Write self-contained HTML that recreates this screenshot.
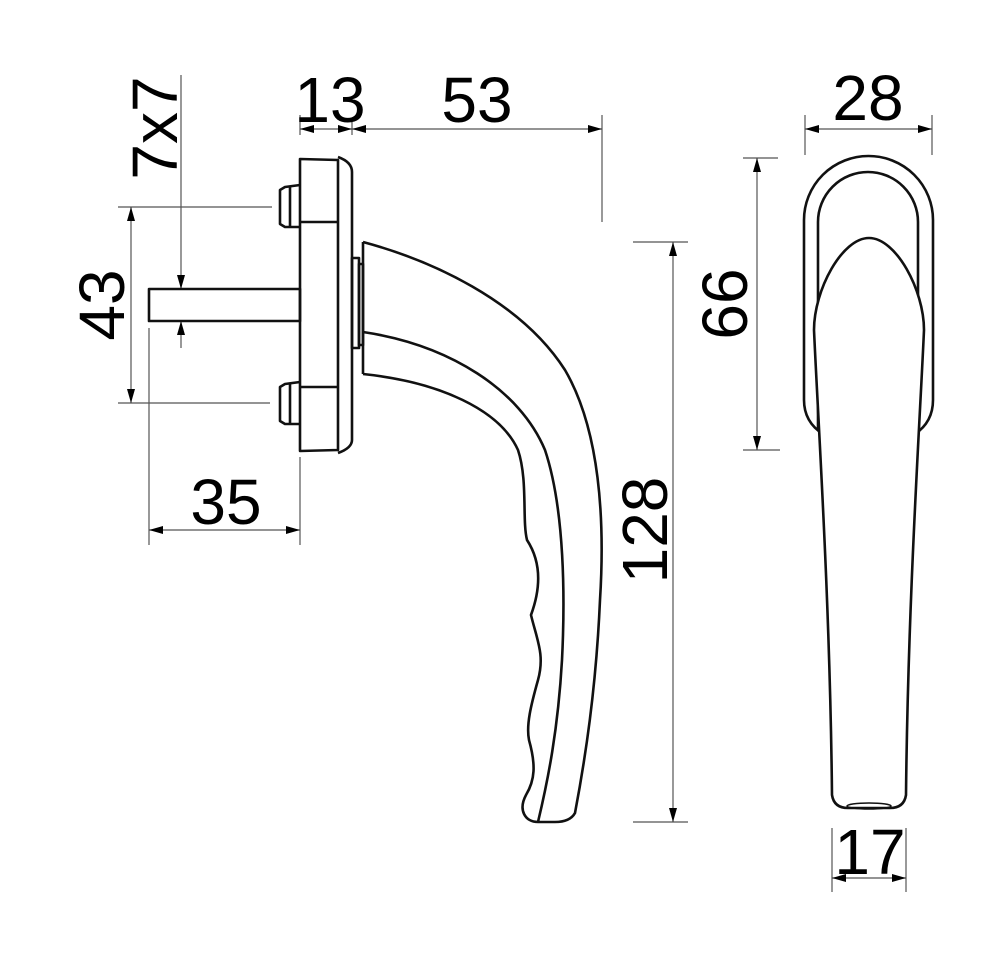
<!DOCTYPE html>
<html><head><meta charset="utf-8"><style>
html,body{margin:0;padding:0;background:#fff;}
svg{display:block;}
text{font-family:"Liberation Sans",Arial,sans-serif;font-size:64px;fill:#000;}
</style></head><body>
<svg width="1000" height="957" viewBox="0 0 1000 957" xmlns="http://www.w3.org/2000/svg">
<rect width="1000" height="957" fill="#fff"/>
<g stroke="#555" stroke-width="1.2" fill="none">
  <line x1="300" y1="129" x2="602" y2="129"/>
  <line x1="300" y1="115" x2="300" y2="135"/>
  <line x1="352" y1="122" x2="352" y2="135"/>
  <line x1="602" y1="115" x2="602" y2="222"/>
  <line x1="181" y1="75" x2="181" y2="289"/>
  <line x1="181" y1="321" x2="181" y2="348"/>
  <line x1="131" y1="207" x2="131" y2="403"/>
  <line x1="118" y1="207" x2="272" y2="207"/>
  <line x1="118" y1="403" x2="270" y2="403"/>
  <line x1="149" y1="328" x2="149" y2="545"/>
  <line x1="300" y1="457" x2="300" y2="545"/>
  <line x1="149" y1="530" x2="300" y2="530"/>
  <line x1="673" y1="242" x2="673" y2="822"/>
  <line x1="633" y1="242" x2="688" y2="242"/>
  <line x1="633" y1="822" x2="688" y2="822"/>
  <line x1="757" y1="158" x2="757" y2="450"/>
  <line x1="743" y1="158" x2="778" y2="158"/>
  <line x1="743" y1="450" x2="780" y2="450"/>
  <line x1="805" y1="129" x2="932" y2="129"/>
  <line x1="805" y1="115" x2="805" y2="155"/>
  <line x1="932" y1="115" x2="932" y2="155"/>
  <line x1="832" y1="878" x2="906" y2="878"/>
  <line x1="832" y1="828" x2="832" y2="892"/>
  <line x1="906" y1="828" x2="906" y2="892"/>
</g>
<g fill="#000">
  <polygon points="300,129 314,125 314,133"/>
  <polygon points="352,129 338,125 338,133"/>
  <polygon points="352,129 366,125 366,133"/>
  <polygon points="602,129 588,125 588,133"/>
  <polygon points="181,289 177,275 185,275"/>
  <polygon points="181,321 177,335 185,335"/>
  <polygon points="131,207 127,221 135,221"/>
  <polygon points="131,403 127,389 135,389"/>
  <polygon points="149,530 163,526 163,534"/>
  <polygon points="300,530 286,526 286,534"/>
  <polygon points="673,242 669,256 677,256"/>
  <polygon points="673,822 669,808 677,808"/>
  <polygon points="757,158 753,172 761,172"/>
  <polygon points="757,450 753,436 761,436"/>
  <polygon points="805,129 819,125 819,133"/>
  <polygon points="932,129 918,125 918,133"/>
  <polygon points="832,878 846,874 846,882"/>
  <polygon points="906,878 892,874 892,882"/>
</g>
<g stroke="#111" stroke-width="2.6" fill="none" stroke-linejoin="round">
  <rect x="149" y="289" width="151" height="32"/>
  <path d="M300,185 L285,187 L280,190 L280,224 L285,227 L300,227"/>
  <line x1="290" y1="186" x2="290" y2="227"/>
  <path d="M300,382 L285,384 L280,387 L280,421 L285,424 L300,424"/>
  <line x1="290" y1="383" x2="290" y2="424"/>
  <path d="M300,159 L338,160 L338,450 L300,451 Z"/>
  <path d="M338,157 Q352,162 352,172 L352,440 Q352,448 338,453"/>
  <line x1="300" y1="222" x2="338" y2="222"/>
  <line x1="300" y1="387" x2="338" y2="387"/>
  <rect x="352" y="258" width="7" height="90"/>
  <rect x="359" y="264" width="4" height="81"/>
  <path d="M363,242 L363,374"/>
  <path d="M363,242 C430,260 520,300 565,370 C600,430 605,520 600,600 C596,690 585,760 575,813 Q570,822 555,822 L538,822"/>
  <path d="M363,332 C450,345 520,390 545,450 C565,510 565,600 562,660 C558,730 548,780 538,822"/>
  <path d="M363,374 C440,382 500,410 518,450 C528,480 522,520 527,540 C540,560 542,585 531,615 C537,640 545,655 538,680 C531,705 526,725 529,740 C536,765 535,780 526,795 C518,810 525,822 538,822"/>
  <!-- front view -->
  <path d="M823,434 Q804,422 804,400 L804,220 A64.5,64 0 0 1 933,220 L933,400 Q933,422 915,434"/>
  <path d="M818,430 L818,222 A50,50 0 0 1 918,222 L918,430"/>
  <path fill="#fff" d="M814,330 C814,290 842,238 869,238 C896,238 924,290 924,330 C920,420 908,600 906,795 Q904,808 890,808 L848,808 Q834,808 832,795 C830,600 818,420 814,330 Z"/>
  <ellipse cx="869" cy="806" rx="22" ry="3" stroke-width="1.5"/>
</g>
<text x="330" y="122" text-anchor="middle">13</text>
<text x="477" y="122" text-anchor="middle">53</text>
<text x="226" y="524" text-anchor="middle">35</text>
<text x="868" y="120" text-anchor="middle">28</text>
<text x="870" y="874" text-anchor="middle">17</text>
<text transform="translate(177,128) rotate(-90)" text-anchor="middle">7x7</text>
<text transform="translate(124,305) rotate(-90)" text-anchor="middle">43</text>
<text transform="translate(747,304) rotate(-90)" text-anchor="middle">66</text>
<text transform="translate(667,530) rotate(-90)" text-anchor="middle">128</text>
</svg>
</body></html>
